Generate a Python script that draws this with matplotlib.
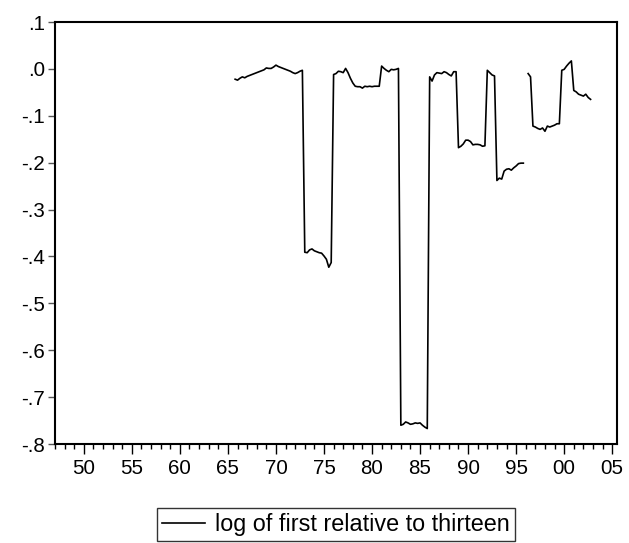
import numpy as np
import pandas as pd
import matplotlib
matplotlib.use("Agg")
import matplotlib.pyplot as plt
from matplotlib.ticker import MultipleLocator

plt.rcParams['font.family'] = ['Liberation Sans', 'DejaVu Sans']

# Quarterly series, 1965Q4 .. 2002Q4 (nan = missing)
start_period = '1965Q4'
end_period = '2002Q4'
values = [
    -0.022,                              # 1965Q4
    -0.024, -0.020, -0.017, -0.019,      # 1966
    -0.016, -0.014, -0.012, -0.010,      # 1967
    -0.008, -0.006, -0.004, -0.002,      # 1968
    0.002, 0.001, 0.001, 0.004,          # 1969
    0.008, 0.005, 0.003, 0.001,          # 1970
    -0.001, -0.003, -0.005, -0.008,      # 1971
    -0.010, -0.008, -0.005, -0.003,      # 1972
    -0.391, -0.392, -0.386, -0.384,      # 1973
    -0.388, -0.390, -0.392, -0.393,      # 1974
    -0.399, -0.406, -0.423, -0.413,      # 1975
    -0.012, -0.010, -0.005, -0.006,      # 1976
    -0.008, 0.001, -0.008, -0.020,       # 1977
    -0.030, -0.037, -0.038, -0.038,      # 1978
    -0.041, -0.037, -0.038, -0.037,      # 1979
    -0.038, -0.037, -0.037, -0.037,      # 1980
    0.006, 0.001, -0.003, -0.006,        # 1981
    -0.001, -0.002, -0.001, 0.001,       # 1982
    -0.760, -0.758, -0.753, -0.755,      # 1983
    -0.758, -0.757, -0.755, -0.756,      # 1984
    -0.755, -0.760, -0.764, -0.767,      # 1985
    -0.017, -0.026, -0.013, -0.008,      # 1986
    -0.009, -0.010, -0.006, -0.008,      # 1987
    -0.012, -0.015, -0.006, -0.006,      # 1988
    -0.168, -0.165, -0.160, -0.152,      # 1989
    -0.152, -0.155, -0.162, -0.161,      # 1990
    -0.161, -0.162, -0.165, -0.164,      # 1991
    -0.003, -0.008, -0.013, -0.015,      # 1992
    -0.238, -0.233, -0.235, -0.218,      # 1993
    -0.214, -0.213, -0.216, -0.211,      # 1994
    -0.207, -0.202, -0.201, -0.201,      # 1995
    np.nan, -0.010, -0.017, -0.122,      # 1996
    -0.124, -0.127, -0.129, -0.126,      # 1997
    -0.133, -0.122, -0.124, -0.122,      # 1998
    -0.120, -0.117, -0.117, -0.003,      # 1999
    -0.001, 0.006, 0.012, 0.017,         # 2000
    -0.046, -0.049, -0.054, -0.056,      # 2001
    -0.058, -0.054, -0.061, -0.065,      # 2002
]
series_label = 'log of first relative to thirteen'

y_ticks = [0.1, 0.0, -0.1, -0.2, -0.3, -0.4, -0.5, -0.6, -0.7, -0.8]
y_tick_labels = ['.1', '.0', '-.1', '-.2', '-.3', '-.4', '-.5', '-.6', '-.7', '-.8']
x_ticks = [1950, 1955, 1960, 1965, 1970, 1975, 1980, 1985, 1990, 1995, 2000, 2005]
x_tick_labels = ['50', '55', '60', '65', '70', '75', '80', '85', '90', '95', '00', '05']

periods = pd.period_range(start_period, end_period, freq='Q')
x = periods.year + (periods.quarter - 1) / 4.0
y = np.array(values, dtype=float)

fig = plt.figure(figsize=(6.29, 5.43), dpi=100)
ax = fig.add_axes([55/629, 1 - 444/543, (617-55)/629, (444-22)/543])

line, = ax.plot(x, y, color='black', lw=1.2, label=series_label)

ax.set_xlim(1947, 2005.5)
ax.set_ylim(-0.8, 0.1)
ax.set_yticks(y_ticks)
ax.set_yticklabels(y_tick_labels)
ax.set_xticks(x_ticks)
ax.set_xticklabels(x_tick_labels)
ax.xaxis.set_minor_locator(MultipleLocator(1))

for s in ax.spines.values():
    s.set_linewidth(1.5)
    s.set_color('black')

ax.tick_params(axis='both', which='both', direction='out', labelsize=14.8, colors='black')
ax.tick_params(axis='y', which='major', length=5, width=1, color='#555555', pad=2)
ax.tick_params(axis='x', which='major', length=7, width=1, pad=4)
ax.tick_params(axis='x', which='minor', length=3.5, width=1)
ax.tick_params(axis='y', which='minor', left=False)

leg = fig.legend(handles=[line], loc='lower center', bbox_to_anchor=(336/629, 0.0),
                 frameon=True, fancybox=False, fontsize=16.8, handlelength=1.85,
                 borderpad=0.2, handletextpad=0.45, borderaxespad=0.1)
leg.get_frame().set_edgecolor('black')
leg.get_frame().set_linewidth(1.0)

fig.savefig('out.png', dpi=100)
